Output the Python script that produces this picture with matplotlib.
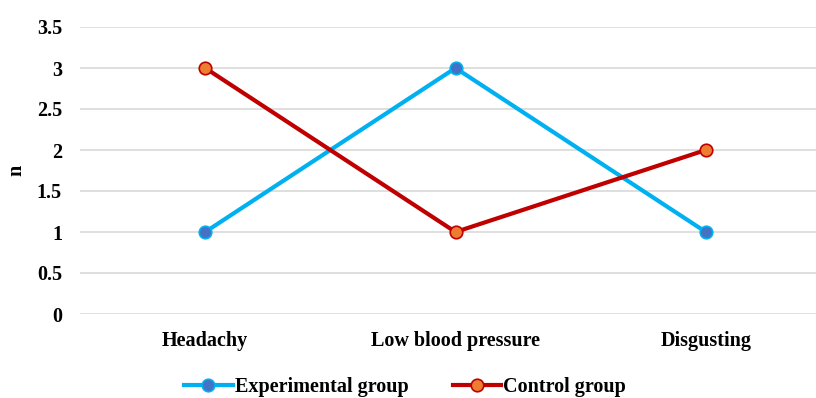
import matplotlib.pyplot as plt

categories = ['Headachy', 'Low blood pressure', 'Disgusting']
experimental = [1, 3, 1]
control = [3, 1, 2]
y_ticks = [0, 0.5, 1, 1.5, 2, 2.5, 3, 3.5]
y_tick_labels = ['0', '0.5', '1', '1.5', '2', '2.5', '3', '3.5']

plt.rcParams['font.family'] = ['Liberation Serif', 'DejaVu Serif']
plt.rcParams['font.weight'] = 'bold'

fig = plt.figure(figsize=(8.16, 3.98), dpi=100)
# 軸は右端で切れている（元画像のトリミングに合わせる）
ax = fig.add_axes([80 / 816, 1 - 314 / 398, 751 / 816, 287 / 398])

x = list(range(len(categories)))
ax.plot(x, experimental, color='#00B0F0', linewidth=3.0,
        marker='o', markersize=9, markerfacecolor='#4472C4',
        markeredgecolor='#00B0F0', markeredgewidth=1.2,
        label='Experimental group', zorder=3)
ax.plot(x, control, color='#C00000', linewidth=3.0,
        marker='o', markersize=9, markerfacecolor='#ED7D31',
        markeredgecolor='#C00000', markeredgewidth=1.2,
        label='Control group', zorder=3)

ax.set_xlim(-0.5, 2.5)
ax.set_ylim(0, 3.5)
ax.set_xticks(x)
ax.set_xticklabels(categories, fontsize=14.5, fontweight='bold')
ax.set_yticks(y_ticks)
ax.set_yticklabels(y_tick_labels, fontsize=14.5, fontweight='bold')
ax.tick_params(length=0)
ax.tick_params(axis='y', pad=13)
ax.tick_params(axis='x', pad=12)
ax.grid(axis='y', color='#D9D9D9', linewidth=1.2)
ax.set_axisbelow(True)
for s in ax.spines.values():
    s.set_visible(False)

ax.set_ylabel('n', fontsize=14.5, fontweight='bold')
ax.yaxis.set_label_coords(-0.071, 0.5)

fig.legend(loc='center', bbox_to_anchor=(405 / 816, 1 - 387 / 398),
           ncol=2, frameon=False, fontsize=14.5, handlelength=2.4,
           columnspacing=2.2, handletextpad=0.1)

fig.savefig('out.png', dpi=100)
